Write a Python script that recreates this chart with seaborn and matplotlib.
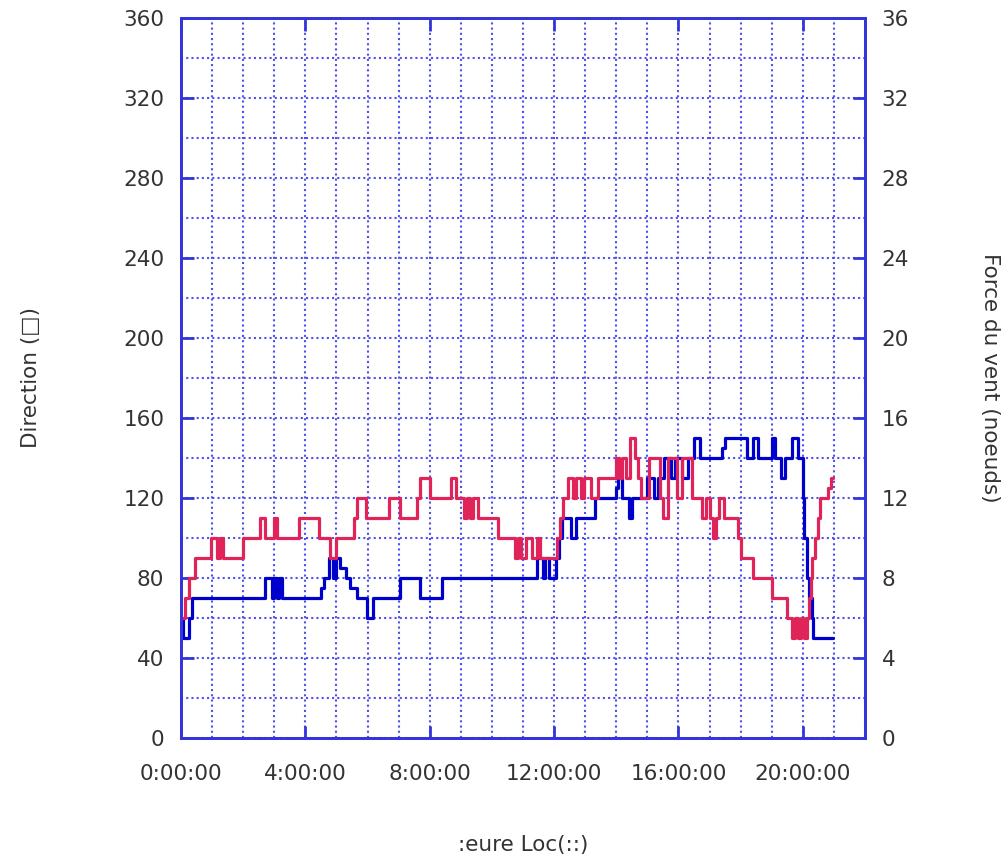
import numpy as np
import pandas as pd
import matplotlib
matplotlib.use("Agg")
import matplotlib.pyplot as plt
from matplotlib.ticker import MultipleLocator, FixedLocator
import seaborn as sns

# ---- data (hours, value) ----
dir_hours = [0.00, 0.05, 0.25, 0.35, 2.70, 2.92, 2.98, 3.10, 3.16, 3.25, 4.50, 4.60, 4.75,
             4.90, 4.98, 5.10, 5.30, 5.45, 5.65, 5.98, 6.17, 7.04, 7.70, 8.40, 11.45, 11.65,
             11.70, 11.85, 12.05, 12.15, 12.25, 12.40, 12.55, 12.70, 13.30, 14.00, 14.05,
             14.20, 14.40, 14.50, 15.00, 15.20, 15.35, 15.55, 15.75, 15.90, 16.10, 16.30,
             16.50, 16.70, 17.40, 17.50, 18.20, 18.40, 18.55, 19.00, 19.12, 19.30, 19.42,
             19.65, 19.85, 20.00, 20.05, 20.12, 20.20, 20.28, 20.33, 20.96]
dir_values = [60, 50, 60, 70, 80, 70, 80, 70, 80, 70, 75, 80, 90,
              80, 90, 85, 80, 75, 70, 60, 70, 80, 70, 80, 90, 80,
              90, 80, 90, 100, 110, 110, 100, 110, 120, 125, 130,
              120, 110, 120, 130, 120, 130, 140, 130, 140, 130, 140,
              150, 140, 145, 150, 140, 150, 140, 150, 140, 130, 140,
              150, 140, 120, 100, 80, 70, 60, 50, 50]

wind_hours = [0.00, 0.12, 0.25, 0.45, 0.95, 1.15, 1.25, 1.35, 2.00, 2.55, 2.70, 2.98, 3.10,
              3.80, 4.45, 4.80, 5.00, 5.55, 5.65, 5.95, 6.70, 7.05, 7.60, 7.70, 8.00, 8.70,
              8.85, 9.10, 9.20, 9.30, 9.40, 9.55, 10.20, 10.75, 10.85, 10.95, 11.10, 11.30,
              11.45, 11.55, 12.10, 12.20, 12.30, 12.45, 12.60, 12.70, 12.85, 12.95, 13.20,
              13.40, 14.00, 14.10, 14.20, 14.30, 14.45, 14.60, 14.70, 14.80, 15.05, 15.40,
              15.50, 15.65, 15.95, 16.10, 16.45, 16.60, 16.75, 16.90, 17.00, 17.10, 17.20,
              17.30, 17.45, 17.90, 18.00, 18.40, 19.00, 19.50, 19.65, 19.75, 19.85, 19.95,
              20.05, 20.15, 20.20, 20.25, 20.30, 20.40, 20.50, 20.55, 20.80, 20.90, 20.96]
wind_values = [6, 7, 8, 9, 10, 9, 10, 9, 10, 11, 10, 11, 10,
               11, 10, 9, 10, 11, 12, 11, 12, 11, 12, 13, 12, 13,
               12, 11, 12, 11, 12, 11, 10, 9, 10, 9, 10, 9,
               10, 9, 10, 11, 12, 13, 12, 13, 12, 13, 12,
               13, 14, 13, 14, 13, 15, 14, 13, 12, 14, 12,
               11, 14, 12, 14, 12, 12, 11, 12, 11, 10, 11,
               12, 11, 10, 9, 8, 7, 6, 5, 6, 5, 6,
               5, 6, 7, 8, 9, 10, 11, 12, 12.5, 13, 13]

x_tick_hours = [0, 4, 8, 12, 16, 20]
x_tick_labels = ["0:00:00", "4:00:00", "8:00:00", "12:00:00", "16:00:00", "20:00:00"]

dir_df = pd.DataFrame({"h": dir_hours, "v": dir_values})
wind_df = pd.DataFrame({"h": wind_hours, "v": wind_values})

sns.set_style("white")
plt.rcParams["font.family"] = ["DejaVu Sans"]

W, H = 1005, 863
fig = plt.figure(figsize=(W / 100, H / 100), dpi=100)
ax = fig.add_axes([181 / W, 1 - 738 / H, (865 - 181) / W, (738 - 18) / H])
ax2 = ax.twinx()

spine_c = "#3434dc"
grid_c = "#5050ee"
text_c = "#333333"
blue = "#0000cc"
red = "#e0245a"

sns.lineplot(data=dir_df, x="h", y="v", ax=ax, color=blue, linewidth=2.3,
             drawstyle="steps-post", estimator=None, sort=False)
sns.lineplot(data=wind_df, x="h", y="v", ax=ax2, color=red, linewidth=2.3,
             drawstyle="steps-post", estimator=None, sort=False)

ax.set_xlim(0, 22)
ax.set_ylim(0, 360)
ax2.set_ylim(0, 36)

ax.xaxis.set_major_locator(FixedLocator(x_tick_hours))
ax.set_xticklabels(x_tick_labels)
ax.xaxis.set_minor_locator(MultipleLocator(1))
ax.yaxis.set_major_locator(MultipleLocator(40))
ax.yaxis.set_minor_locator(MultipleLocator(20))
ax2.yaxis.set_major_locator(MultipleLocator(4))

ax.grid(True, which="both", color=grid_c, linestyle=(0, (1, 1.5)), linewidth=1.5)
ax2.grid(False)

fs = 15.5
ax.tick_params(axis="both", which="major", direction="in", length=9, width=2,
               color=spine_c, labelcolor=text_c, labelsize=fs)
ax.tick_params(axis="x", which="major", top=True, bottom=True, pad=19)
ax.tick_params(axis="y", which="major", left=True, right=False, pad=12)
ax.tick_params(which="minor", length=0)
ax2.tick_params(axis="y", which="major", direction="in", length=9, width=2,
                color=spine_c, labelcolor=text_c, labelsize=fs, pad=12)

for a in (ax, ax2):
    for s in a.spines.values():
        s.set_color(spine_c)
        s.set_linewidth(2)

ax.set_xlabel(":eure Loc(::)", fontsize=fs, color=text_c)
ax.xaxis.set_label_coords(0.5, -0.135)
ax.set_ylabel("Direction (\u25a1)", fontsize=fs, color=text_c)
ax.yaxis.set_label_coords(-0.205, 0.5)
ax2.set_ylabel("Force du vent (noeuds)", fontsize=fs, color=text_c, rotation=270,
               va="center")
ax2.yaxis.set_label_coords(1.183, 0.5)

fig.savefig("out.png", dpi=100)
